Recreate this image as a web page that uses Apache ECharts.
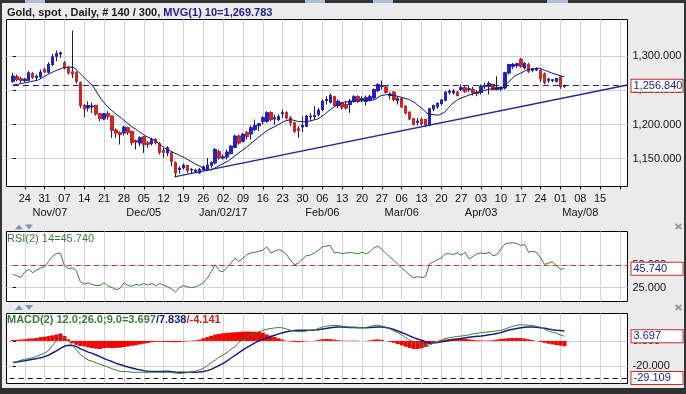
<!DOCTYPE html>
<html><head><meta charset="utf-8">
<script src="https://cdn.jsdelivr.net/npm/echarts@6/dist/echarts.min.js"></script>
<style>html,body{margin:0;padding:0;background:#ebebeb;}#c{width:686px;height:394px;}</style>
</head><body><div id="c"></div>
<script>
// ---------------- DATA ----------------
const startDateUTC = [2016, 9, 19];     // first bar: Wed 19 Oct 2016 (weekdays only)
const calendarDays = 156;               // 140 bars + future weekdays shown on the axis
const barsShown = 140, barsTotal = 300, maPeriod = 10;

const opens = [1263.4,1269.8,1266.8,1264.4,1264.9,1274.6,1268.8,1269.8,1280.5,1276.6,
1287.8,1300.0,1303.4,1290.3,1282.9,1277.0,1275.6,1261.0,1227.8,1224.4,
1226.0,1227.8,1215.6,1208.3,1215.6,1212.2,1191.7,1187.8,1187.8,1195.1,
1189.8,1176.6,1173.1,1181.9,1173.1,1172.2,1178.0,1172.2,1161.9,1158.5,
1158.5,1143.9,1134.1,1136.5,1140.0,1133.5,1131.7,1129.2,1134.1,1134.6,
1140.4,1143.9,1160.0,1151.2,1152.6,1157.5,1166.8,1182.9,1175.6,1187.8,
1186.3,1192.7,1198.5,1204.9,1204.9,1217.1,1208.3,1207.3,1216.1,1217.1,
1209.7,1202.4,1193.6,1196.6,1197.5,1211.2,1211.7,1214.6,1221.9,1235.1,
1232.7,1240.5,1227.8,1231.7,1229.3,1229.3,1234.1,1240.5,1236.1,1234.1,
1236.6,1239.0,1249.7,1256.1,1254.6,1242.4,1247.3,1235.6,1237.6,1226.8,
1218.0,1208.3,1203.5,1207.3,1207.3,1200.0,1222.9,1225.8,1230.7,1235.6,
1247.3,1246.3,1247.3,1251.2,1253.7,1251.2,1251.2,1247.3,1247.3,1256.1,
1256.1,1258.5,1251.2,1252.2,1253.7,1275.6,1285.4,1286.4,1295.1,1282.9,
1287.8,1279.5,1280.0,1279.0,1274.0,1264.9,1264.4,1263.4,1269.3,1256.1];
const highs = [1275.6,1273.2,1269.8,1268.3,1278.1,1276.6,1273.2,1280.5,1282.9,1291.2,
1303.4,1308.3,1306.8,1292.7,1285.4,1337.5,1278.0,1263.0,1230.0,1234.0,
1232.0,1229.0,1217.0,1217.0,1219.5,1213.0,1194.0,1190.0,1197.5,1197.0,
1191.0,1178.0,1182.9,1183.0,1175.6,1180.5,1180.0,1174.0,1165.8,1168.3,
1160.0,1146.0,1139.0,1142.9,1141.0,1136.5,1135.1,1136.5,1140.0,1151.2,
1146.3,1165.8,1163.4,1156.1,1163.4,1169.2,1185.3,1185.3,1187.8,1190.2,
1198.5,1207.3,1202.4,1212.2,1219.5,1219.5,1214.6,1214.6,1221.9,1219.5,
1212.2,1204.0,1197.5,1212.2,1214.6,1217.1,1226.8,1224.4,1236.6,1241.4,
1245.4,1242.0,1236.6,1233.0,1234.1,1237.6,1243.0,1242.4,1241.4,1242.4,
1243.9,1252.7,1260.0,1264.4,1257.0,1247.3,1249.0,1241.4,1239.0,1228.0,
1219.0,1209.0,1209.7,1209.7,1208.0,1224.0,1229.3,1232.7,1237.6,1248.8,
1251.2,1252.2,1249.0,1258.5,1256.1,1256.1,1255.0,1250.2,1258.5,1261.0,
1263.4,1260.0,1270.7,1256.0,1277.0,1289.0,1290.3,1290.3,1297.6,1291.2,
1290.3,1282.9,1283.9,1281.0,1276.0,1268.3,1266.3,1268.3,1270.7,1258.5];
const lows = [1261.0,1263.4,1261.0,1262.0,1263.4,1266.8,1264.9,1266.8,1275.6,1274.6,
1285.4,1292.7,1297.6,1280.5,1273.2,1268.0,1260.0,1224.0,1211.0,1219.0,
1217.0,1213.0,1204.9,1206.3,1207.3,1180.5,1180.5,1170.7,1183.9,1185.0,
1169.7,1163.4,1168.3,1158.5,1165.8,1169.2,1170.7,1156.1,1151.2,1153.6,
1139.0,1124.3,1128.2,1134.1,1129.2,1128.0,1130.2,1128.2,1132.0,1131.7,
1136.5,1141.4,1148.7,1148.7,1148.7,1156.1,1165.8,1170.7,1174.1,1178.0,
1178.0,1190.2,1190.2,1200.0,1202.4,1204.9,1200.0,1204.9,1209.7,1207.3,
1197.5,1187.8,1180.5,1188.8,1196.6,1204.9,1207.3,1212.2,1219.5,1229.3,
1230.7,1226.8,1224.4,1221.9,1221.9,1217.1,1232.0,1231.7,1232.7,1227.8,
1234.1,1236.6,1247.3,1251.2,1245.4,1236.6,1234.0,1229.3,1224.4,1214.6,
1206.3,1198.5,1198.5,1198.5,1196.0,1197.5,1219.5,1223.0,1227.8,1234.1,
1243.9,1243.9,1241.4,1248.8,1246.3,1247.3,1242.4,1241.4,1243.9,1252.2,
1243.9,1249.7,1250.2,1249.0,1251.2,1273.2,1281.5,1283.0,1282.9,1280.5,
1275.6,1276.6,1278.1,1262.0,1259.0,1261.0,1262.0,1261.5,1252.2,1253.7];
const closes = [1270.7,1265.9,1264.9,1266.3,1275.6,1269.3,1270.7,1276.6,1277.1,1287.8,
1299.0,1303.4,1304.9,1282.9,1275.6,1274.0,1263.4,1227.8,1222.9,1227.8,
1227.0,1215.6,1208.8,1215.6,1212.2,1191.7,1187.8,1185.3,1196.1,1188.8,
1174.1,1174.6,1180.5,1170.7,1171.2,1178.0,1173.1,1159.5,1159.5,1165.8,
1146.3,1129.2,1135.6,1140.4,1133.1,1134.1,1133.1,1134.1,1138.0,1140.4,
1143.9,1163.4,1151.2,1152.6,1159.5,1168.3,1182.9,1173.1,1185.3,1182.9,
1195.1,1198.5,1201.0,1209.7,1217.1,1207.3,1209.7,1211.2,1217.1,1209.7,
1202.4,1190.2,1191.7,1198.5,1212.2,1212.2,1213.2,1220.9,1234.1,1236.6,
1242.4,1227.8,1234.1,1225.8,1224.4,1234.1,1240.5,1234.1,1237.6,1239.0,
1240.5,1251.2,1258.5,1257.1,1247.3,1244.4,1236.6,1237.6,1225.8,1217.1,
1208.3,1200.0,1204.9,1201.4,1200.0,1222.9,1227.8,1230.7,1235.6,1247.3,
1248.8,1248.8,1242.4,1253.7,1248.8,1252.2,1246.3,1245.4,1256.1,1257.1,
1260.0,1251.2,1253.7,1253.7,1275.6,1287.8,1287.8,1288.8,1285.4,1289.3,
1278.1,1281.5,1282.0,1266.8,1262.0,1266.3,1265.4,1267.3,1255.6,1256.84];

// 10-bar moving average (bar position, value)
const maBar = [0,3,6.3,8.8,10.5,12.6,14.3,15.5,16.8,18.5,20.2,22.3,23.9,25.6,27.3,29.8,31.5,33.2,35.7,38.2,
40.7,43.3,45.8,48.7,50,51.7,54.2,56.7,59.2,61.7,64.2,65.9,68.5,70.1,71.8,73.5,74.8,76.9,78.5,80.2,
81.9,83.6,85.3,87.8,90.3,91.2,92.8,94.5,96.5,99.9,101.5,103.2,104.7,107.3,108.8,110.5,112.1,114.6,117.2,119.7,
122.2,123.5,124.7,126.4,128.1,129.8,131.5,132.7,134,135.7,137.3,139];
const maVal = [1257.6,1261.0,1264.9,1273.2,1278.1,1282.9,1284.4,1282.9,1275.6,1265.9,1256.1,1236.6,1225.8,1217.1,1209.7,1197.5,1191.0,1184.0,1177.0,1165.8,
1158.5,1151.2,1142.9,1134.1,1133.6,1139.0,1146.3,1157.5,1168.3,1180.5,1191.7,1196.6,1205.0,1207.3,1204.5,1204.0,1205.0,1208.3,1214.6,1222.9,
1229.3,1232.7,1234.1,1234.6,1235.1,1236.6,1242.4,1243.9,1242.0,1236.6,1231.0,1223.0,1215.0,1213.8,1218.0,1229.3,1236.6,1242.4,1247.3,1251.2,
1253.7,1254.6,1261.0,1270.7,1275.6,1280.5,1281.5,1282.5,1279.5,1275.6,1272.5,1269.783];

// hand-drawn support trendline (bar position, price)
const trendBar = [40.7, 154.9];
const trendVal = [1123.4, 1257.8];

const rsi = [39.5,38.0,36.2,42.2,45.1,41.4,44.4,46.3,48.1,53.7,
59.3,62.7,62.7,48.9,45.9,46.6,43.6,31.3,28.7,30.2,
28.3,27.2,27.2,30.2,26.5,25.0,22.7,23.8,30.2,27.2,
26.5,28.3,27.6,29.4,27.6,29.4,26.8,29.4,27.6,25.7,
23.5,20.1,25.0,27.2,25.7,25.0,25.7,27.6,30.2,35.1,
42.5,50.0,43.6,42.5,47.4,51.9,57.5,53.7,57.5,61.2,
63.1,63.8,64.9,66.1,69.8,63.1,64.9,66.8,64.9,61.2,
54.9,50.0,51.9,56.4,60.1,60.8,63.1,66.1,69.8,70.6,
71.3,63.1,63.8,62.3,63.1,63.5,63.1,62.3,63.8,62.0,
64.6,68.7,70.6,66.8,62.7,58.6,54.9,50.7,46.3,42.9,
38.8,35.8,36.9,36.2,36.9,51.1,53.4,55.6,57.5,62.0,
62.3,61.2,63.1,60.4,63.8,56.4,59.3,62.3,63.1,62.3,
63.8,60.1,61.2,67.6,72.8,73.9,74.3,73.5,71.3,72.4,
63.8,64.9,63.8,57.5,50.4,51.9,53.4,48.9,45.1,45.74];

const macd = [-17.0,-16.2,-15.2,-14.4,-13.8,-13.2,-12.2,-10.8,-9.6,-7.5,
-3.5,0.0,2.8,2.5,0.0,-3.5,-7.0,-10.5,-13.0,-15.0,
-16.0,-17.2,-18.5,-19.5,-20.5,-21.8,-23.0,-23.8,-24.0,-24.2,
-24.5,-24.6,-24.6,-24.6,-24.6,-24.5,-24.5,-24.6,-24.6,-24.5,
-24.8,-25.3,-25.5,-25.3,-24.8,-24.3,-23.8,-22.8,-21.5,-19.5,
-17.0,-15.0,-12.8,-11.0,-9.0,-6.5,-4.5,-1.0,1.0,3.0,
4.6,6.0,7.2,8.2,9.2,9.7,10.2,10.5,10.2,9.3,
8.4,7.6,7.2,7.3,7.8,8.3,8.6,9.8,10.8,11.5,
12.0,12.1,12.0,11.5,11.0,10.8,10.8,10.6,10.4,10.6,
11.2,12.0,12.3,11.6,10.6,9.4,8.0,6.5,4.8,2.6,
0.8,-0.8,-2.2,-3.2,-3.8,-3.2,-1.8,-0.6,0.6,1.8,
2.6,3.0,3.5,3.8,4.3,4.8,5.6,6.0,6.5,6.8,
7.1,7.5,7.9,8.3,9.3,10.5,11.5,12.2,12.7,12.6,
12.3,12.0,11.4,10.6,9.3,7.7,6.8,6.0,4.6,3.697];
const signal = [-17.0,-16.6,-16.0,-15.5,-14.9,-14.4,-13.9,-13.2,-12.3,-11.2,
-9.5,-7.8,-5.8,-4.2,-3.4,-3.5,-4.5,-6.0,-7.4,-8.8,
-9.8,-11.0,-12.3,-13.9,-15.1,-16.2,-17.6,-18.5,-19.5,-20.4,
-21.2,-22.0,-22.7,-23.3,-23.7,-24.0,-24.0,-24.0,-23.9,-23.8,
-24.1,-24.4,-24.6,-24.6,-24.5,-24.5,-24.5,-24.4,-24.0,-23.3,
-22.3,-20.8,-19.2,-17.6,-15.6,-13.4,-11.3,-9.2,-7.0,-5.0,
-3.3,-1.5,0.0,1.2,2.3,3.4,4.5,5.5,6.4,7.2,
7.8,8.2,8.4,8.4,8.4,8.4,8.5,8.8,9.3,9.8,
10.3,10.7,10.9,10.9,10.8,10.6,10.5,10.4,10.4,10.4,
10.5,10.7,10.9,10.9,10.6,9.9,9.0,7.8,6.6,5.3,
3.9,2.6,1.5,0.5,-0.6,-1.4,-1.6,-1.2,-0.7,-0.2,
0.4,0.9,1.4,1.9,2.4,2.9,3.3,3.6,3.9,4.3,
4.8,5.3,5.9,6.5,7.6,8.5,9.2,9.8,10.3,10.7,
10.9,11.0,10.8,10.4,9.9,9.3,8.8,8.4,8.1,7.838];
const hist = [0.8,0.9,1.1,1.3,1.8,2.0,2.3,3.0,3.3,3.8,
4.4,5.0,5.8,3.8,1.3,-1.8,-3.0,-4.0,-4.3,-5.1,
-5.6,-6.1,-6.3,-5.6,-5.4,-5.6,-5.4,-5.3,-4.8,-4.3,
-3.8,-3.3,-2.8,-2.2,-1.7,-1.0,-0.7,-0.6,-0.7,-0.8,
-1.0,-1.1,-0.8,-0.5,-0.3,0.2,0.5,1.0,2.0,3.0,
4.0,5.0,5.5,6.0,6.3,6.6,6.8,7.0,7.2,7.4,
7.3,7.2,7.0,6.5,5.0,4.0,3.0,2.0,1.0,0.0,
-0.5,-0.8,-1.0,-0.6,-0.3,0.0,0.2,0.8,1.3,1.5,
1.4,1.0,0.6,0.3,0.2,0.2,0.3,0.2,0.0,0.2,
0.5,1.0,1.2,0.8,0.0,-0.8,-1.5,-2.5,-3.5,-4.5,
-5.5,-6.3,-6.3,-5.8,-4.8,-2.5,-1.2,-0.3,0.6,1.1,
1.5,1.8,2.0,2.0,1.8,1.3,0.8,0.5,0.4,0.3,
0.3,0.6,1.0,1.6,1.8,2.2,2.3,2.3,2.2,1.8,
1.2,0.6,0.0,-0.8,-1.5,-2.2,-2.8,-3.2,-3.7,-4.141];
const macdLowLine = -29.109;

const priceTicks = [1150, 1200, 1250, 1300];
const rsiTicks = [25, 50];
const macdTicks = [-20, 0];
const rsiMidLine = 50;
const lastMA = 1269.783;
const monthMarks = {'2016-11-07':'Nov/07','2016-12-05':'Dec/05','2017-01-02':'Jan/02/17',
  '2017-02-06':'Feb/06','2017-03-06':'Mar/06','2017-04-03':'Apr/03','2017-05-08':'May/08'};
const lastLabelDate = '2017-05-15';

// ---------------- LAYOUT / STYLE ----------------
const X_MIN = -1.6, X_MAX = 154.9;
const FONT = 'Arial, "Liberation Sans", sans-serif';
const UP = '#2222c6', DOWN = '#d42323', WICK = '#1c1c3c';
const NAVY = '#1a1a80', GREEN = '#3b7b3b', GRIDC = '#d3d3d3';
const CLEAR = 'rgba(0,0,0,0)';

// ---------------- BUILD ----------------
const dates = [];
for (let t = Date.UTC(...startDateUTC); dates.length < calendarDays; t += 86400000) {
  const d = new Date(t), wd = d.getUTCDay();
  if (wd !== 0 && wd !== 6) dates.push(d);
}
const key = d => d.toISOString().slice(0, 10);
const mondays = [];
dates.forEach((d, i) => { if (d.getUTCDay() === 1) mondays.push(i); });
const labelMondays = mondays.filter(i => key(dates[i]) <= lastLabelDate);
const monthIdx = [];
dates.forEach((d, i) => { if (monthMarks[key(d)]) monthIdx.push(i); });

function fmt3(v) {
  const s = Math.abs(v).toFixed(3).split('.');
  return (v < 0 ? '-' : '') + s[0].replace(/\B(?=(\d{3})+(?!\d))/g, ',') + '.' + s[1];
}
function dayLabel(v) {
  const d = dates[Math.round(v)];
  return d ? String(d.getUTCDate()).padStart(2, '0') : '';
}
function monthLabel(v) {
  const d = dates[Math.round(v)];
  if (!d) return '';
  const m = monthMarks[key(d)] || '';
  return key(d) === '2016-11-07' ? '{s|' + m + '}' : m;
}

const n = closes.length;
const last = closes[n - 1];
const candleData = closes.map((c, i) => [i, opens[i], c, lows[i], highs[i]]);
const bodyData = closes.map((c, i) => [i, opens[i], c, Math.min(opens[i], c), Math.max(opens[i], c)]);

const boxLabel = txt => ({
  show: true, position: 'end', distance: 4, formatter: txt, opacity: 1,
  color: '#1a1a9a', fontSize: 11, fontFamily: FONT, lineHeight: 11,
  backgroundColor: '#fff', borderColor: '#cc2a2a', borderWidth: 1,
  padding: [1, 2, 0, 2], width: 47, align: 'left'
});

const labelFont = {color: '#111', fontSize: 11, fontFamily: FONT, lineHeight: 14};
function xAxisFor(gi, labels) {
  return {
    type: 'value', gridIndex: gi, min: X_MIN, max: X_MAX,
    axisLine: {show: false},
    axisTick: {show: labels, customValues: mondays, length: 3, lineStyle: {color: '#000'}},
    axisLabel: labels ? Object.assign({
      customValues: labelMondays, formatter: dayLabel, margin: 5,
      showMinLabel: true, showMaxLabel: true, hideOverlap: false
    }, labelFont) : {show: false},
    splitLine: {show: true, lineStyle: {color: GRIDC, width: 1}}
  };
}
const monthAxis = {
  type: 'value', gridIndex: 0, position: 'bottom', min: X_MIN, max: X_MAX,
  axisLine: {show: false}, axisTick: {show: false, customValues: monthIdx}, splitLine: {show: false},
  axisLabel: Object.assign({
    customValues: monthIdx, formatter: monthLabel, margin: 19,
    showMinLabel: true, showMaxLabel: true, hideOverlap: false,
    rich: {s: Object.assign({padding: [0, 29, 0, 0]}, labelFont)}
  }, labelFont)
};
function yAxisFor(gi, min, max, ticks) {
  return {
    type: 'value', gridIndex: gi, position: 'right', min, max,
    axisLine: {show: false},
    axisTick: {show: true, customValues: ticks, length: 3, lineStyle: {color: '#000'}},
    axisLabel: {customValues: ticks, formatter: fmt3, margin: 5, color: '#111', fontSize: 11, fontFamily: FONT,
      showMinLabel: true, showMaxLabel: true},
    splitLine: {show: true, lineStyle: {color: GRIDC, width: 1}}
  };
}
const gridBase = {left: 6.5, right: 58.5, show: true, backgroundColor: '#fff', borderColor: '#000', borderWidth: 1};

const tri = (x, y, up) => ({type: 'polygon', silent: true,
  shape: {points: up ? [[x, y + 5], [x + 4, y], [x + 8, y + 5]] : [[x, y], [x + 8, y], [x + 4, y + 5]]},
  style: {fill: '#8595ae'}});
const cross = (x, y) => ({type: 'group', silent: true, children: [
  {type: 'line', shape: {x1: x, y1: y, x2: x + 6, y2: y + 5}, style: {stroke: '#9c9c9c', lineWidth: 2}},
  {type: 'line', shape: {x1: x + 6, y1: y, x2: x, y2: y + 5}, style: {stroke: '#9c9c9c', lineWidth: 2}}]});

const option = {
  animation: false,
  backgroundColor: '#ebebeb',
  textStyle: {fontFamily: FONT},
  title: [
    {left: 7, top: 7, padding: 0,
     text: '{k|Gold, spot , Daily, # ' + barsShown + ' / ' + barsTotal + ', }{b|MVG(1) ' + maPeriod + '=' + fmt3(lastMA) + '}',
     textStyle: {rich: {k: {fontSize: 11, fontFamily: FONT, color: '#1a1a1a'}, b: {fontSize: 11, fontFamily: FONT, color: '#1c1c8c'}}}},
    {left: 7, top: 233, padding: 0, text: 'RSI(2) 14=' + rsi[n - 1].toFixed(3),
     textStyle: {fontSize: 11, fontFamily: FONT, fontWeight: 'normal', color: GREEN}},
    {left: 7, top: 314, padding: 0,
     text: '{g|MACD(2) 12.0;26.0;9.0=' + macd[n - 1].toFixed(3) + '}{b|/' + signal[n - 1].toFixed(3) + '}{r|/' + hist[n - 1].toFixed(3) + '}',
     textStyle: {rich: {g: {fontSize: 11, fontFamily: FONT, color: GREEN}, b: {fontSize: 11, fontFamily: FONT, color: NAVY}, r: {fontSize: 11, fontFamily: FONT, color: '#c62020'}}}}
  ],
  grid: [
    Object.assign({top: 19.5, height: 167}, gridBase),
    Object.assign({top: 231.5, height: 70}, gridBase),
    Object.assign({top: 313.5, height: 70}, gridBase)
  ],
  xAxis: [xAxisFor(0, true), xAxisFor(1, false), xAxisFor(2, false), monthAxis],
  yAxis: [
    yAxisFor(0, 1109.3, 1353.7, priceTicks),
    yAxisFor(1, 9.6, 86.7, rsiTicks),
    yAxisFor(2, -33.4, 21.5, macdTicks)
  ],
  graphic: [
    {type: 'rect', silent: true, shape: {x: 0, y: 0, width: 686, height: 3}, style: {fill: '#353535'}},
    {type: 'rect', silent: true, shape: {x: 0, y: 0, width: 2, height: 394}, style: {fill: '#353535'}},
    {type: 'rect', silent: true, shape: {x: 684, y: 0, width: 2, height: 394}, style: {fill: '#353535'}},
    {type: 'rect', silent: true, shape: {x: 0, y: 388, width: 686, height: 6}, style: {fill: '#2e2e2e'}},
    {type: 'rect', silent: true, shape: {x: 25, y: 0, width: 20, height: 3}, style: {fill: '#a9bfdc'}},
    {type: 'rect', silent: true, shape: {x: 305, y: 0, width: 20, height: 3}, style: {fill: '#a9bfdc'}},
    {type: 'rect', silent: true, shape: {x: 373, y: 0, width: 20, height: 3}, style: {fill: '#a9bfdc'}},
    {type: 'rect', silent: true, shape: {x: 547, y: 0, width: 21, height: 3}, style: {fill: '#a9bfdc'}},
    tri(15, 224.5, true), tri(25, 224.5, false),
    tri(15, 305, true), tri(25, 305, false),
    cross(675.5, 224), cross(675.5, 305)
  ],
  series: [
    {type: 'candlestick', xAxisIndex: 0, yAxisIndex: 0, barWidth: 3, silent: true,
     data: candleData, encode: {x: 0, y: [1, 2, 3, 4]},
     itemStyle: {color: UP, color0: DOWN, borderColor: WICK, borderColor0: WICK, borderWidth: 1}},
    {type: 'candlestick', xAxisIndex: 0, yAxisIndex: 0, barWidth: 3, silent: true,
     data: bodyData, encode: {x: 0, y: [1, 2, 3, 4]},
     itemStyle: {color: UP, color0: DOWN, borderColor: UP, borderColor0: DOWN, borderWidth: 1},
     markLine: {silent: true, symbol: ['none', 'none'],
       data: [[{coord: [0, last], lineStyle: {color: NAVY, type: [6, 4], width: 1.2}, label: boxLabel(fmt3(last))},
               {coord: [X_MAX, last]}]]}},
    {type: 'line', xAxisIndex: 0, yAxisIndex: 0, silent: true, symbol: 'none',
     data: maBar.map((b, i) => [b, maVal[i]]), lineStyle: {color: '#16166a', width: 1}},
    {type: 'line', xAxisIndex: 0, yAxisIndex: 0, silent: true, symbol: 'none',
     data: trendBar.map((b, i) => [b, trendVal[i]]), lineStyle: {color: '#26269a', width: 1.5}},
    {type: 'line', xAxisIndex: 1, yAxisIndex: 1, silent: true, symbol: 'none',
     data: rsi.map((v, i) => [i, v]), lineStyle: {color: GREEN, width: 1},
     markLine: {silent: true, symbol: ['none', 'none'], data: [
       [{coord: [0, rsiMidLine], lineStyle: {color: '#c03030', type: [5, 4], width: 1}, label: {show: false}}, {coord: [X_MAX, rsiMidLine]}],
       [{coord: [n - 1, rsi[n - 1]], lineStyle: {color: CLEAR, width: 1}, label: boxLabel(rsi[n - 1].toFixed(3))}, {coord: [X_MAX, rsi[n - 1]]}]
     ]}},
    {type: 'bar', xAxisIndex: 2, yAxisIndex: 2, silent: true, barWidth: 4,
     data: hist.map((v, i) => [i, v]), itemStyle: {color: '#f20000'}},
    {type: 'line', xAxisIndex: 2, yAxisIndex: 2, silent: true, symbol: 'none',
     data: signal.map((v, i) => [i, v]), lineStyle: {color: NAVY, width: 1.5},
     markLine: {silent: true, symbol: ['none', 'none'], data: [
       [{coord: [-0.8, macdLowLine], lineStyle: {color: '#111', type: [5, 4], width: 1}, label: boxLabel(fmt3(macdLowLine))}, {coord: [X_MAX, macdLowLine]}]
     ]}},
    {type: 'line', xAxisIndex: 2, yAxisIndex: 2, silent: true, symbol: 'none',
     data: macd.map((v, i) => [i, v]), lineStyle: {color: GREEN, width: 1},
     markLine: {silent: true, symbol: ['none', 'none'], data: [
       [{coord: [n - 1, macd[n - 1]], lineStyle: {color: CLEAR, width: 1}, label: boxLabel(macd[n - 1].toFixed(3))}, {coord: [X_MAX, macd[n - 1]]}]
     ]}}
  ]
};
const chart = echarts.init(document.getElementById('c'), null, {renderer: 'canvas'});
chart.setOption(option);
</script></body></html>
